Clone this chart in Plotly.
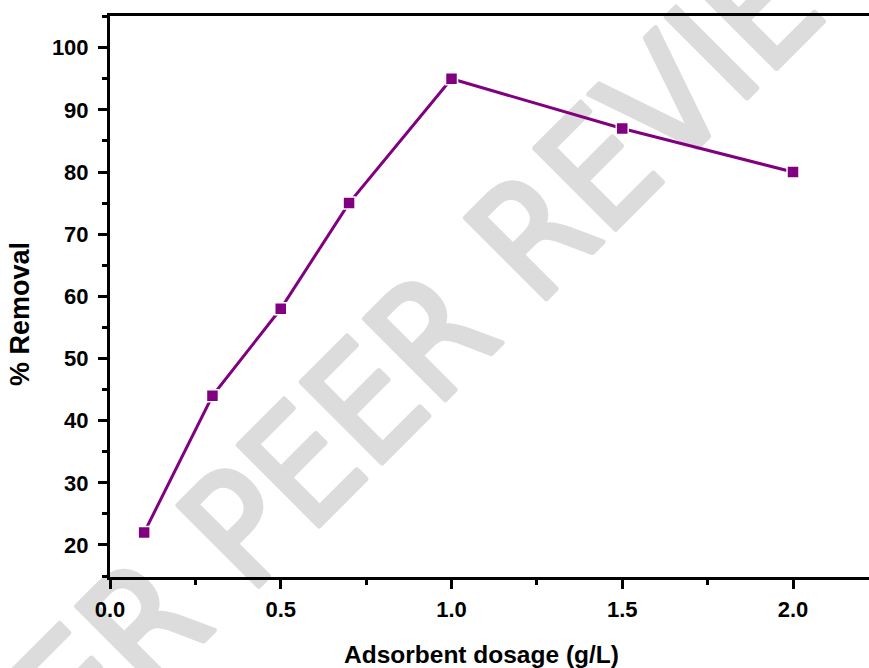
import plotly.graph_objects as go

# Data
dosage = [0.1, 0.3, 0.5, 0.7, 1.0, 1.5, 2.0]
removal = [22, 44, 58, 75, 95, 87, 80]

x_ticks = [0.0, 0.5, 1.0, 1.5, 2.0]
x_tick_labels = ["0.0", "0.5", "1.0", "1.5", "2.0"]
y_ticks = [20, 30, 40, 50, 60, 70, 80, 90, 100]
y_tick_labels = ["20", "30", "40", "50", "60", "70", "80", "90", "100"]

x_title = "Adsorbent dosage (g/L)"
y_title = "% Removal"
watermark = "UNDER PEER REVIEW"

PURPLE = "#800080"
FONT = "Liberation Sans, Arial, sans-serif"

fig = go.Figure()
fig.add_trace(go.Scatter(
    x=dosage, y=removal, mode="lines+markers",
    line=dict(color=PURPLE, width=3),
    marker=dict(symbol="square", size=12, color=PURPLE,
                line=dict(color="white", width=1.5)),
    showlegend=False, cliponaxis=False,
))

# watermark (moved beneath the data by the post script below)
fig.add_annotation(
    text=watermark, xref="paper", yref="paper", x=0.323, y=0.294,
    xanchor="center", yanchor="middle",
    showarrow=False, textangle=-45,
    font=dict(family="Liberation Sans Narrow, DejaVu Sans Condensed, Arial Narrow, sans-serif",
              size=157, color="rgba(0,0,0,0.14)"),
)

# axis titles as annotations for exact placement
fig.add_annotation(
    text="<b>" + x_title + "</b>", xref="paper", yref="paper",
    x=0.4895, y=-0.139, xanchor="center", yanchor="middle", showarrow=False,
    font=dict(family=FONT, size=24.5, color="black"),
)
fig.add_annotation(
    text="<b>" + y_title + "</b>", xref="paper", yref="paper",
    x=-0.1186, y=0.4688, xanchor="center", yanchor="middle", showarrow=False,
    textangle=-90,
    font=dict(family=FONT, size=27, color="black"),
)

fig.update_layout(
    width=869, height=668,
    margin=dict(l=110, r=0, t=16, b=91),
    paper_bgcolor="white", plot_bgcolor="rgba(0,0,0,0)",
    font=dict(family=FONT, color="black"),
)

fig.update_xaxes(
    range=[0, 2.2225],
    tickmode="array", tickvals=x_ticks, ticktext=x_tick_labels,
    ticks="outside", ticklen=9, tickwidth=3, tickcolor="black",
    minor=dict(dtick=0.25, tick0=0, ticks="outside", ticklen=5, tickwidth=3, tickcolor="black"),
    showline=True, linewidth=3, linecolor="black", mirror=True,
    showgrid=False, zeroline=False,
    tickfont=dict(family=FONT, size=22, weight="bold"),
    ticklabelstandoff=2,
)

fig.update_yaxes(
    range=[14.85, 105.1],
    tickmode="array", tickvals=y_ticks, ticktext=y_tick_labels,
    ticks="outside", ticklen=9, tickwidth=3, tickcolor="black",
    minor=dict(dtick=5, tick0=0, ticks="outside", ticklen=5, tickwidth=3, tickcolor="black"),
    showline=True, linewidth=3, linecolor="black", mirror=False,
    showgrid=False, zeroline=False,
    tickfont=dict(family=FONT, size=22, weight="bold"),
    ticklabelstandoff=5,
)

post = """
document.body.style.margin='0';
document.body.style.overflow='hidden';
try {
  var gd = document.getElementById('{plot_id}');
  var ann = gd.querySelector('g.annotation[data-index="0"]');
  var cl = gd.querySelector('.cartesianlayer');
  if (ann && cl) {
    cl.parentNode.insertBefore(ann, cl);
    var t = ann.querySelector('text');
    t.style.fill = '#dcdcdc';
    t.style.fillOpacity = '1';
    t.style.stroke = '#dcdcdc';
    t.style.strokeOpacity = '1';
    t.style.strokeWidth = '5px';
    t.style.strokeLinejoin = 'round';
  }
} catch (e) {}
"""

fig.write_html(
    "out.html",
    config={"displayModeBar": False, "staticPlot": True},
    post_script=post,
)
